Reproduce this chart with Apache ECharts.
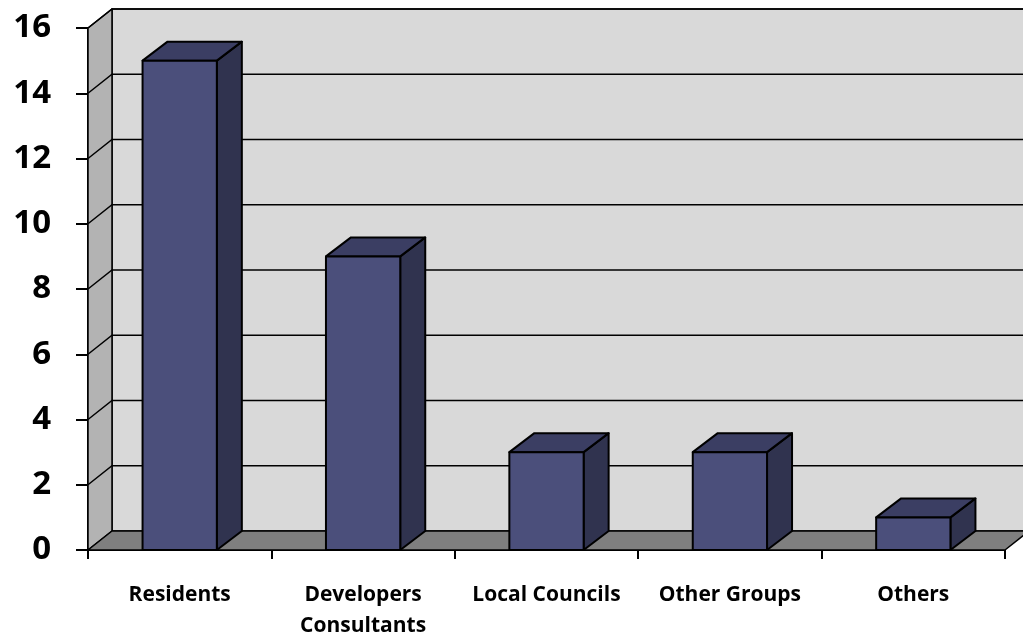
<!DOCTYPE html>
<html>
<head>
<meta charset="utf-8">
<script src="https://cdn.jsdelivr.net/npm/echarts@6/dist/echarts.min.js"></script>
<style>
html,body{margin:0;padding:0;background:#fff;}
#chart{width:1023px;height:637px;}
</style>
</head>
<body>
<div id="chart"></div>
<script>
const categories = ['Residents', 'Developers\nConsultants', 'Local Councils', 'Other Groups', 'Others'];
const values = [15, 9, 3, 3, 1];
const yTicks = [0, 2, 4, 6, 8, 10, 12, 14, 16];

const WALL_DX = 24, WALL_DY = -19;
const BAR_DX = 25, BAR_DY = -19;
const FONT = '"Open Sans", Lato, sans-serif';

const chart = echarts.init(document.getElementById('chart'), null, {renderer: 'canvas'});

function wallsRender(params, api) {
  const cs = params.coordSys;
  const x0 = cs.x, x1 = cs.x + cs.width;
  const y0 = api.coord([0, yTicks[0]])[1];
  const yT = api.coord([0, yTicks[yTicks.length - 1]])[1];
  const dx = WALL_DX, dy = WALL_DY;
  const stroke = {stroke: '#000', lineWidth: 1.5, lineJoin: 'round'};
  return {
    type: 'group',
    children: [
      {type: 'polygon', shape: {points: [[x0 + dx, y0 + dy], [x1 + dx, y0 + dy], [x1 + dx, yT + dy], [x0 + dx, yT + dy]]},
        style: Object.assign({fill: '#D9D9D9'}, stroke)},
      {type: 'polygon', shape: {points: [[x0, y0], [x0 + dx, y0 + dy], [x0 + dx, yT + dy], [x0, yT]]},
        style: Object.assign({fill: '#B3B3B3'}, stroke)},
      {type: 'polygon', shape: {points: [[x0, y0], [x1, y0], [x1 + dx, y0 + dy], [x0 + dx, y0 + dy]]},
        style: Object.assign({fill: '#7F7F7F'}, stroke)}
    ]
  };
}

function gridRender(params, api) {
  const cs = params.coordSys;
  const x0 = cs.x, x1 = cs.x + cs.width;
  const y = api.coord([0, api.value(1)])[1];
  const dx = WALL_DX, dy = WALL_DY;
  return {
    type: 'group',
    children: [
      {type: 'polyline', shape: {points: [[x0, y], [x0 + dx, y + dy], [x1 + dx, y + dy]]},
        style: {stroke: '#000', lineWidth: 1.5, fill: null}}
    ]
  };
}

function barRender(params, api) {
  const idx = api.value(0), val = api.value(1);
  const top = api.coord([idx, val]);
  const base = api.coord([idx, 0]);
  const band = api.size([1, 0])[0];
  const w = band * 0.405;
  const xl = top[0] - w / 2, xr = top[0] + w / 2;
  const yt = top[1], yb = base[1];
  const dx = BAR_DX, dy = BAR_DY;
  const st = {stroke: '#000', lineWidth: 2, lineJoin: 'round'};
  return {
    type: 'group',
    children: [
      {type: 'polygon', shape: {points: [[xr, yb], [xr + dx, yb + dy], [xr + dx, yt + dy], [xr, yt]]},
        style: Object.assign({fill: '#30334F'}, st)},
      {type: 'polygon', shape: {points: [[xl, yt], [xr, yt], [xr + dx, yt + dy], [xl + dx, yt + dy]]},
        style: Object.assign({fill: '#3B3E63'}, st)},
      {type: 'rect', shape: {x: xl, y: yt, width: xr - xl, height: yb - yt},
        style: Object.assign({fill: '#4B4F7B'}, st)}
    ]
  };
}

chart.setOption({
  animation: false,
  backgroundColor: '#ffffff',
  grid: {left: 88, right: 18, top: 28, bottom: 87, containLabel: false, outerBoundsMode: 'none'},
  xAxis: {
    type: 'category',
    data: categories,
    boundaryGap: true,
    axisLine: {show: true, lineStyle: {color: '#000', width: 2}},
    axisTick: {show: true, inside: false, length: 9, lineStyle: {color: '#000', width: 2}},
    axisLabel: {color: '#000', fontWeight: 'bold', fontSize: 21, fontFamily: FONT, margin: 30, lineHeight: 31, interval: 0},
    splitLine: {show: false}
  },
  yAxis: {
    type: 'value',
    min: 0, max: 16, interval: 2,
    axisLine: {show: true, lineStyle: {color: '#000', width: 2}},
    axisTick: {show: true, inside: false, length: 12, lineStyle: {color: '#000', width: 2}},
    axisLabel: {color: '#000', fontWeight: 'bold', fontSize: 33, fontFamily: FONT, margin: 37, padding: [6, 0, 0, 0]},
    splitLine: {show: false}
  },
  series: [
    {type: 'custom', name: 'walls', z: 1, clip: false, silent: true, renderItem: wallsRender, data: [[0, 0]]},
    {type: 'custom', name: 'grid', z: 2, clip: false, silent: true, renderItem: gridRender, data: yTicks.slice(1).map(v => [0, v])},
    {type: 'custom', name: 'bars', z: 3, clip: false, renderItem: barRender, data: values.map((v, i) => [i, v])}
  ]
});
</script>
</body>
</html>
